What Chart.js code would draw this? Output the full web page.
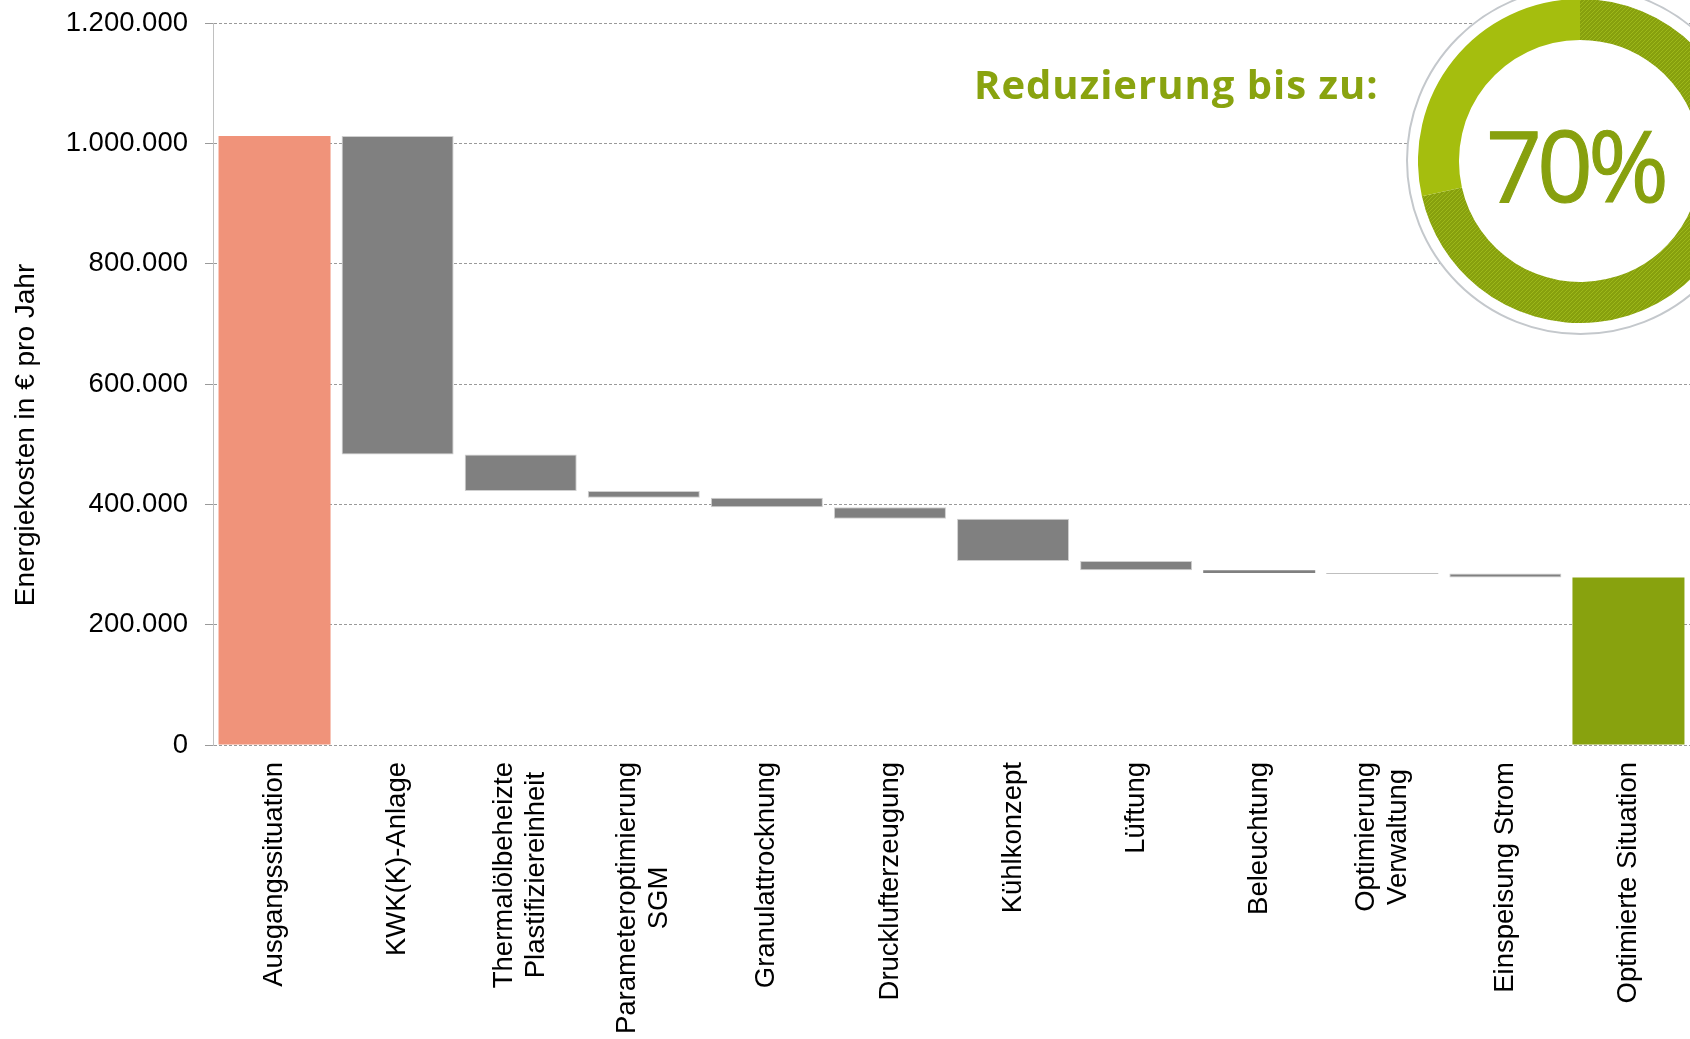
<!DOCTYPE html>
<html lang="de">
<head>
<meta charset="utf-8">
<title>Energiekosten in € pro Jahr</title>
<script src="https://cdn.jsdelivr.net/npm/chart.js@4.4.1/dist/chart.umd.min.js"></script>
<style>
  html, body { margin: 0; padding: 0; background: #fff; }
  #wrap { position: relative; width: 1690px; height: 1039px; overflow: hidden; }
  #mainChart { position: absolute; left: 0; top: 0; }
  #ring {
    position: absolute; left: 1406px; top: -14px; width: 349px; height: 349px;
    box-sizing: border-box; border: 2px solid #c4c8cc; border-radius: 50%; background: #fff;
  }
  #badgeChart { position: absolute; left: 1418px; top: -1px; }
  #badgeTitle {
    position: absolute; left: 974px; top: 64px; white-space: nowrap;
    font-family: 'Open Sans', sans-serif; font-weight: 700; font-size: 40px; line-height: 1;
    letter-spacing: 1px; color: #89a30f;
  }
  #badgeValue {
    position: absolute; left: 1475px; top: 115px; width: 200px; text-align: center;
    font-family: 'Open Sans', sans-serif; font-weight: 400; font-size: 98px; line-height: 1;
    letter-spacing: -5px; color: #87a00e; -webkit-text-stroke: 1px #87a00e;
  }
</style>
</head>
<body>
<div id="wrap">
  <canvas id="mainChart" width="1690" height="1039"></canvas>
  <div id="ring"></div>
  <canvas id="badgeChart" width="324" height="324"></canvas>
  <div id="badgeTitle">Reduzierung bis zu:</div>
  <div id="badgeValue">70%</div>
</div>
<script>
// Kategorien (mehrzeilige Beschriftungen als Arrays)
const categories = [
    ['Ausgangssituation'],
    ['KWK(K)-Anlage'],
    ['Thermalölbeheizte', 'Plastifiziereinheit'],
    ['Parameteroptimierung', 'SGM'],
    ['Granulattrocknung'],
    ['Drucklufterzeugung'],
    ['Kühlkonzept'],
    ['Lüftung'],
    ['Beleuchtung'],
    ['Optimierung', 'Verwaltung'],
    ['Einspeisung Strom'],
    ['Optimierte Situation']
];

// Wasserfall: Unter- und Oberkante jedes Balkens (€ pro Jahr)
const barBottom = [0, 483000, 422000, 411000, 395000, 376000, 306000, 290500, 286000, 285000, 278500, 0];
const barTop = [1012000, 1012000, 483000, 422000, 411000, 395000, 376000, 306000, 290500, 286000, 285000, 278500];

// Y-Achse
const yTicks = [0, 200000, 400000, 600000, 800000, 1000000, 1200000];
const yTitle = 'Energiekosten in € pro Jahr';

// Kreisgrafik: Reduzierung vs. Rest (%)
const reductionLabels = ['Reduzierung', 'Rest'];
const reductionShare = [71.5, 28.5];

const fontFamily = "'Liberation Sans', Arial, sans-serif";
const tickFont = { family: fontFamily, size: 27.5 };
const labelLineHeight = 32;
const labelPad = 17;

const barColors = barTop.map((v, i) => {
    if (i === 0) return '#f0937a';
    if (i === barTop.length - 1) return '#88a20e';
    return '#808080';
});
const barBorders = barTop.map((v, i) => {
    if (i === 0) return '#f0937a';
    if (i === barTop.length - 1) return '#88a20e';
    return '#cfcfcf';
});
// sehr flache Balken ohne hellen Rand, sonst wirken sie zu blass
const barBorderWidths = [0, 1, 1, 1, 1, 1, 1, 1, 0, 0, 1, 0];

// x-Beschriftungen und Achsentitel selbst zeichnen (zentrierte Mehrzeiler)
const labelPlugin = {
    id: 'customLabels',
    afterDraw(chart) {
        const scale = chart.scales.x;
        const ctx = chart.ctx;
        ctx.save();
        ctx.font = tickFont.size + 'px ' + fontFamily;
        ctx.fillStyle = '#000';
        ctx.textAlign = 'center';
        ctx.textBaseline = 'middle';
        categories.forEach((lines, i) => {
            const x = scale.getPixelForTick(i);
            const maxW = Math.max(...lines.map(l => ctx.measureText(l).width));
            ctx.save();
            ctx.translate(x, scale.top + labelPad);
            ctx.rotate(-Math.PI / 2);
            lines.forEach((line, j) => {
                ctx.fillText(line, -maxW / 2, (j - (lines.length - 1) / 2) * labelLineHeight);
            });
            ctx.restore();
        });

        // y-Achsentitel
        ctx.font = '28px ' + fontFamily;
        ctx.translate(26, 435);
        ctx.rotate(-Math.PI / 2);
        ctx.fillText(yTitle, 0, 0);
        ctx.restore();
    }
};

new Chart(document.getElementById('mainChart').getContext('2d'), {
    type: 'bar',
    data: {
        labels: categories,
        datasets: [{
            label: 'Energiekosten',
            data: barBottom.map((b, i) => [b, barTop[i]]),
            backgroundColor: barColors,
            borderColor: barBorders,
            borderWidth: barBorderWidths,
            borderSkipped: false,
            barPercentage: 0.91,
            categoryPercentage: 1
        }]
    },
    options: {
        responsive: false,
        animation: false,
        layout: {
            padding: { top: 23, left: 0, right: -3, bottom: 0 }
        },
        plugins: {
            legend: { display: false },
            tooltip: { enabled: false }
        },
        scales: {
            x: {
                grid: { display: false },
                border: { display: false },
                ticks: {
                    autoSkip: false,
                    minRotation: 90,
                    maxRotation: 90,
                    padding: labelPad,
                    color: 'rgba(0,0,0,0)',
                    font: tickFont
                },
                afterFit: (axis) => {
                    axis.height = 294;
                    axis.paddingLeft = 0;
                    axis.paddingRight = 0;
                }
            },
            y: {
                min: 0,
                max: 1200000,
                afterBuildTicks: (axis) => {
                    axis.ticks = yTicks.map(v => ({ value: v }));
                },
                afterFit: (axis) => {
                    axis.width = 213;
                    axis.paddingTop = 0;
                    axis.paddingBottom = 0;
                },
                ticks: {
                    color: '#000',
                    font: tickFont,
                    padding: 17,
                    callback: (value) => Number(value).toLocaleString('de-DE')
                },
                grid: {
                    color: '#9a9a9a',
                    lineWidth: 1,
                    tickLength: 8
                },
                border: {
                    display: true,
                    color: '#c0c0c0',
                    width: 1,
                    dash: [3, 2]
                }
            }
        }
    },
    plugins: [labelPlugin]
});

// Schraffur für den Reduzierungsanteil
function makeHatch() {
    const c = document.createElement('canvas');
    c.width = 4;
    c.height = 4;
    const p = c.getContext('2d');
    p.fillStyle = '#87a00e';
    p.fillRect(0, 0, 4, 4);
    p.strokeStyle = '#9db81a';
    p.lineWidth = 1;
    p.beginPath();
    p.moveTo(0, 4);
    p.lineTo(4, 0);
    p.moveTo(-1, 1);
    p.lineTo(1, -1);
    p.moveTo(3, 5);
    p.lineTo(5, 3);
    p.stroke();
    return p.createPattern(c, 'repeat');
}

new Chart(document.getElementById('badgeChart').getContext('2d'), {
    type: 'doughnut',
    data: {
        labels: reductionLabels,
        datasets: [{
            data: reductionShare,
            backgroundColor: [makeHatch(), '#a5be0e'],
            borderWidth: 0
        }]
    },
    options: {
        responsive: false,
        animation: false,
        cutout: '74.7%',
        plugins: {
            legend: { display: false },
            tooltip: { enabled: false }
        }
    }
});
</script>
</body>
</html>
